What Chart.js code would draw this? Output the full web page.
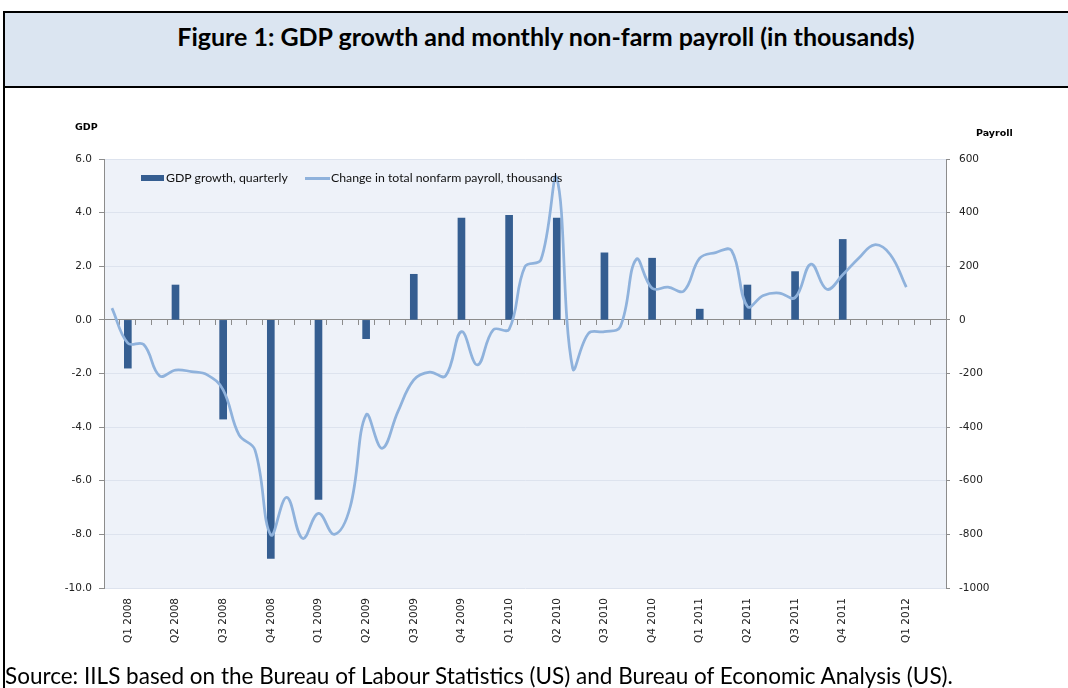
<!DOCTYPE html>
<html>
<head>
<meta charset="utf-8">
<script src="https://cdn.jsdelivr.net/npm/chart.js@4/dist/chart.umd.min.js"></script>
<style>
html,body{margin:0;padding:0;background:#fff;width:1068px;height:688px;overflow:hidden;position:relative;font-family:Lato,'Open Sans',sans-serif;}
#chart{position:absolute;left:0;top:0;}
#frame{position:absolute;left:3px;top:11px;width:1120px;height:720px;border-left:2px solid #000;border-top:2px solid #000;}
#titlebar{position:absolute;left:5px;top:13px;width:1120px;height:73px;background:#dbe5f1;border-bottom:2px solid #000;}
#title{position:absolute;left:5px;width:1082px;top:22px;line-height:28px;text-align:center;font-weight:bold;font-size:25px;color:#000;white-space:nowrap;}
#source{position:absolute;left:5px;top:662px;line-height:28px;font-size:22.5px;color:#000;white-space:nowrap;}
.axt{position:absolute;font-family:'DejaVu Sans',sans-serif;font-weight:bold;font-size:9.5px;color:#000;line-height:12px;white-space:nowrap;}
.lg{position:absolute;font-family:Lato,'Open Sans',sans-serif;font-size:12.3px;color:#111;line-height:14px;white-space:nowrap;}
.sw{position:absolute;}
</style>
</head>
<body>
<div id="frame"></div>
<div id="titlebar"></div>
<div id="title">Figure 1: GDP growth and monthly non-farm payroll (in thousands)</div>
<canvas id="chart" width="1068" height="688"></canvas>
<div class="axt" style="left:75px;top:121px;">GDP</div>
<div class="axt" style="left:976px;top:127px;">Payroll</div>
<div class="sw" style="left:141px;top:175px;width:23px;height:6px;background:#355e91;"></div>
<div class="lg" style="left:166px;top:171px;">GDP growth, quarterly</div>
<div class="sw" style="left:305px;top:177px;width:25px;height:2.5px;background:#8fb2dc;"></div>
<div class="lg" style="left:331px;top:171px;">Change in total nonfarm payroll, thousands</div>
<div id="source">Source: IILS based on the Bureau of Labour Statistics (US) and Bureau of Economic Analysis (US).</div>
<script>
// Monthly categories, Jan 2008 .. May 2012 (labels only where the original shows them)
const months = ['', 'Q1 2008', '', '', 'Q2 2008', '', '', 'Q3 2008', '', '', 'Q4 2008', '', '',
  'Q1 2009', '', '', 'Q2 2009', '', '', 'Q3 2009', '', '', 'Q4 2009', '', '',
  'Q1 2010', '', '', 'Q2 2010', '', '', 'Q3 2010', '', '', 'Q4 2010', '', '',
  'Q1 2011', '', '', 'Q2 2011', '', '', 'Q3 2011', '', '', 'Q4 2011', '', '', '',
  'Q1 2012', '', ''];

// Quarters and GDP growth (quarterly, annualised %)
const quarters = ['Q1 2008','Q2 2008','Q3 2008','Q4 2008','Q1 2009','Q2 2009','Q3 2009','Q4 2009',
  'Q1 2010','Q2 2010','Q3 2010','Q4 2010','Q1 2011','Q2 2011','Q3 2011','Q4 2011','Q1 2012'];
const gdpGrowth = [-1.8, 1.3, -3.7, -8.9, -6.7, -0.7, 1.7, 3.8, 3.9, 3.8, 2.5, 2.3, 0.4, 1.3, 1.8, 3.0, null];

// Change in total nonfarm payroll, thousands, Jan 2008 .. Mar 2012
const payroll = [44, -87, -92, -209, -187, -193, -205, -261, -429, -485, -802, -662,
  -815, -722, -800, -697, -354, -479, -342, -224, -195, -209, -44, -168,
  -37, -35, 199, 224, 529, -180, -50, -44, -25, 226, 118, 122,
  108, 230, 251, 259, 50, 91, 100, 83, 208, 114, 168, 230,
  280, 243, 122];

// Axis ticks
const gdpTicks = {min: -10, max: 6, step: 2};
const payrollTicks = {min: -1000, max: 600, step: 200};

const barData = months.map(m => {
  const k = quarters.indexOf(m);
  return k >= 0 ? gdpGrowth[k] : null;
});
const lineData = months.map((m, i) => i < payroll.length ? payroll[i] : null);

const plotBg = {
  id: 'plotBg',
  beforeDraw(c) {
    const {ctx, chartArea: a} = c;
    ctx.save();
    ctx.fillStyle = '#eef2f9';
    ctx.fillRect(a.left, a.top, a.right - a.left, a.bottom - a.top);
    ctx.restore();
  }
};

const axisFont = {family: "'DejaVu Sans', sans-serif", size: 10.5};
const grey = '#8c8c8c';

new Chart(document.getElementById('chart'), {
  type: 'bar',
  data: {
    labels: months,
    datasets: [
      {
        type: 'line',
        label: 'Change in total nonfarm payroll, thousands',
        data: lineData,
        yAxisID: 'y1',
        xAxisID: 'x',
        borderColor: '#8fb2dc',
        borderWidth: 2.75,
        pointRadius: 0,
        tension: 0.4,
        fill: false,
        spanGaps: false,
        order: 0
      },
      {
        type: 'bar',
        label: 'GDP growth, quarterly',
        data: barData,
        yAxisID: 'y',
        xAxisID: 'x',
        backgroundColor: '#355e91',
        barThickness: 7,
        order: 1
      }
    ]
  },
  options: {
    responsive: false,
    animation: false,
    devicePixelRatio: 1,
    layout: {padding: {left: 40, right: 40, top: 159, bottom: 40}},
    plugins: {legend: {display: false}, tooltip: {enabled: false}},
    scales: {
      x: {
        type: 'category',
        position: 'bottom',
        offset: true,
        grid: {display: false, drawTicks: false},
        border: {display: false},
        ticks: {autoSkip: false, minRotation: 90, maxRotation: 90, padding: 10, font: axisFont, color: '#222'},
        afterFit(s) { s.height = 60; }
      },
      x2: {
        type: 'category',
        axis: 'x',
        position: {y: 0},
        offset: true,
        labels: months,
        grid: {offset: true, drawOnChartArea: false, drawTicks: true, tickLength: 5, tickColor: grey, color: grey},
        border: {display: true, color: grey, width: 1},
        ticks: {display: false}
      },
      y: {
        position: 'left',
        min: gdpTicks.min, max: gdpTicks.max,
        ticks: {stepSize: gdpTicks.step, padding: 7, font: axisFont, color: '#222', callback: v => Number(v).toFixed(1)},
        grid: {color: '#dde3ee', tickColor: grey, tickLength: 5},
        border: {display: true, color: grey, width: 1},
        afterFit(s) { s.width = 64; }
      },
      y1: {
        position: 'right',
        min: payrollTicks.min, max: payrollTicks.max,
        ticks: {stepSize: payrollTicks.step, padding: 9, font: axisFont, color: '#222', callback: v => String(v)},
        grid: {drawOnChartArea: false, tickColor: grey, tickLength: 4},
        border: {display: true, color: grey, width: 1},
        afterFit(s) { s.width = 82; }
      }
    }
  },
  plugins: [plotBg]
});
</script>
</body>
</html>
